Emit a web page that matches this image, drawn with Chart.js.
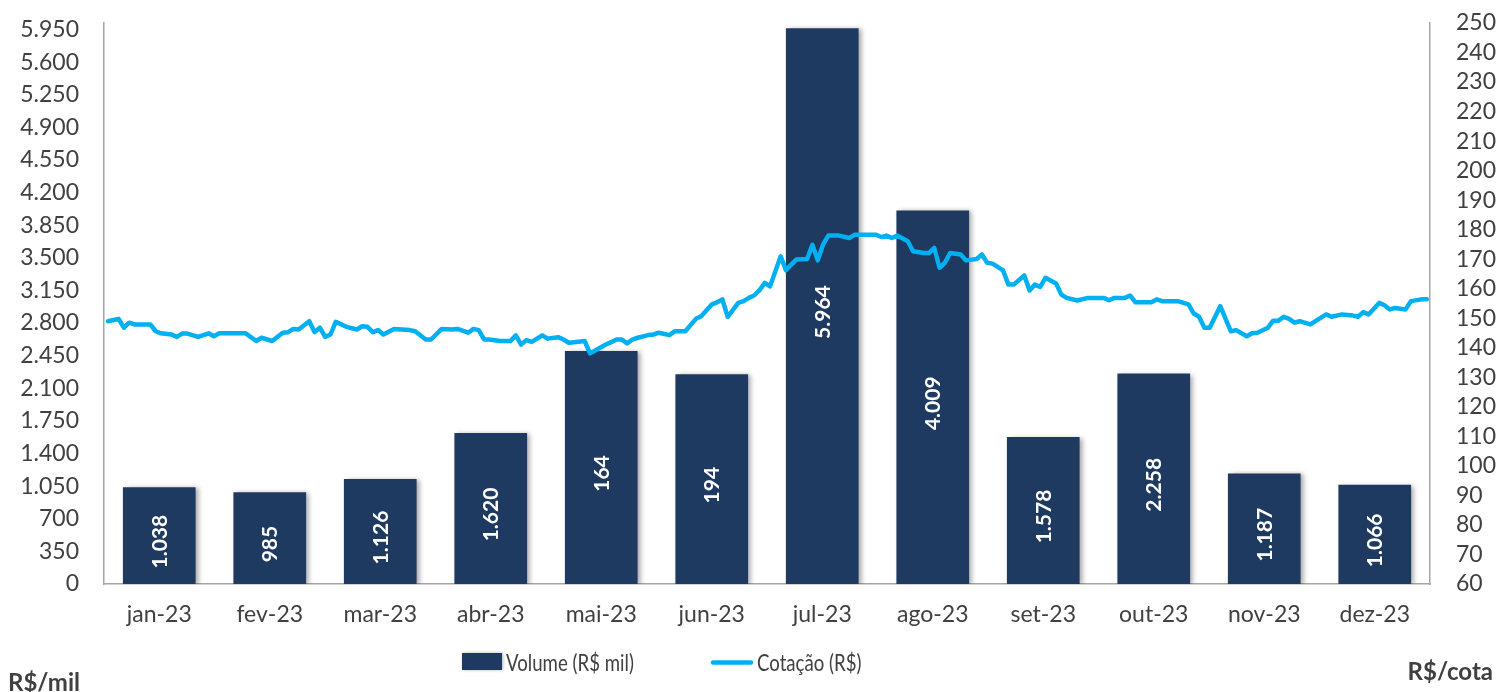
<!DOCTYPE html>
<html>
<head>
<meta charset="utf-8">
<script src="https://cdn.jsdelivr.net/npm/chart.js@4"></script>
<style>
html,body{margin:0;padding:0;background:#fff;}
#wrap{width:1499px;height:692px;position:relative;}
</style>
</head>
<body>
<div id="wrap"><canvas id="c" width="1499" height="692"></canvas></div>
<script>
// ---- data ----
const meses = ['jan-23','fev-23','mar-23','abr-23','mai-23','jun-23','jul-23','ago-23','set-23','out-23','nov-23','dez-23'];
const volumeBarras = [1038, 985, 1126, 1620, 2500, 2250, 5964, 4009, 1578, 2258, 1187, 1066];
const volumeRotulos = ['1.038','985','1.126','1.620','164','194','5.964','4.009','1.578','2.258','1.187','1.066'];
const eixoVolumeTicks = [0,350,700,1050,1400,1750,2100,2450,2800,3150,3500,3850,4200,4550,4900,5250,5600,5950];
const eixoCotacaoTicks = [60,70,80,90,100,110,120,130,140,150,160,170,180,190,200,210,220,230,240,250];
// trading day of the year (0..249) and closing price
const cotacaoDia = [0,2,3,4,5,8,9,10,12,13,14,15,17,19,20,21,26,28,29,31,33,34,35,36,38,39,40,41,42,43,45,47,48,49,50,51,52,54,57,58,60,61,63,65,66,68,69,70,71,72,74,76,77,78,79,80,82,83,85,86,87,88,90,91,92,94,95,96,97,98,99,100,102,103,104,106,107,109,111,112,114,115,116,117,119,120,121,122,123,124,125,127,128,129,130,132,133,134,135,136,138,140,141,145,146,147,148,149,151,152,154,155,156,157,158,159,161,162,164,165,166,167,169,170,171,173,174,175,176,177,179,180,181,183,185,188,189,190,192,193,194,197,198,199,202,204,205,206,207,208,210,212,213,215,216,217,219,220,221,222,223,224,225,227,230,231,233,235,236,237,238,240,241,242,243,245,246,248,249];
const cotacaoValor = [149.0,149.8,146.8,148.5,147.9,147.9,145.6,144.9,144.5,143.7,144.8,144.8,143.7,144.9,143.9,144.9,144.9,142.3,143.4,142.3,145.1,145.3,146.4,146.2,149.0,145.3,146.8,143.7,144.5,148.8,147.1,146.2,147.3,147.1,145.3,146.0,144.5,146.4,146.0,145.6,142.8,142.8,146.4,146.2,146.4,145.1,146.4,146.0,142.8,142.8,142.3,142.3,144.2,141.1,142.6,142.0,144.2,143.1,143.6,142.8,141.7,141.9,142.3,138.1,139.1,141.1,141.9,142.8,142.8,141.5,142.8,143.4,144.3,144.5,145.1,144.3,145.6,145.6,149.8,150.7,154.7,155.4,156.4,150.5,155.2,155.8,156.9,157.7,159.5,162.0,160.8,171.0,166.3,168.2,169.9,170.1,174.9,169.6,174.9,178.0,178.0,177.2,178.3,178.3,177.5,178.0,177.2,178.0,176.1,172.7,172.1,172.1,173.8,167.1,168.8,172.1,171.6,169.6,170.1,171.6,168.8,168.5,166.2,161.4,161.4,164.5,159.4,161.4,160.6,163.7,161.8,158.0,156.9,156.0,156.9,156.9,156.1,156.9,156.9,157.7,155.4,155.4,156.4,155.8,155.8,154.7,151.6,150.5,146.8,146.8,154.1,145.6,146.0,143.9,144.9,145.1,146.8,149.2,149.2,150.5,149.8,148.5,149.0,147.9,151.3,150.5,151.3,150.9,150.5,152.1,151.3,155.2,154.4,153.0,153.5,153.0,155.8,156.4,156.4];

// ---- styles ----
const FONT = 'Lato, "Open Sans", sans-serif';
const TXT = '#404040';
const AXIS = '#A6A6A6';
const BAR = '#1F3A60';
const LINE = '#00B0F0';
const fmt = v => String(v).replace(/\B(?=(\d{3})+(?!\d))/g, '.');
const noPad = s => { s.paddingTop = 0; s.paddingBottom = 0; s.paddingLeft = 0; s.paddingRight = 0; };

const shadowAndLabels = {
  id: 'shadowAndLabels',
  beforeDatasetDraw(chart, args) {
    if (args.index !== 0) return;
    const ctx = chart.ctx;
    ctx.save();
    ctx.shadowColor = 'rgba(0,0,0,0.35)';
    ctx.shadowBlur = 5;
    ctx.shadowOffsetX = 3;
    ctx.shadowOffsetY = 1;
  },
  afterDatasetDraw(chart, args) {
    if (args.index !== 0) return;
    const ctx = chart.ctx;
    ctx.restore();
    const meta = chart.getDatasetMeta(0);
    meta.data.forEach((bar, i) => {
      const cy = (bar.y + bar.base) / 2 + 6;
      ctx.save();
      ctx.translate(bar.x, cy);
      ctx.rotate(-Math.PI / 2);
      ctx.fillStyle = '#ffffff';
      ctx.font = 'bold 21px ' + FONT;
      ctx.textAlign = 'center';
      ctx.textBaseline = 'alphabetic';
      ctx.fillText(volumeRotulos[i], 0, 7.5);
      ctx.restore();
    });
  }
};

const legendAndUnits = {
  id: 'legendAndUnits',
  afterDraw(chart) {
    const ctx = chart.ctx;
    const ds = chart.data.datasets;
    ctx.save();
    ctx.save();
    ctx.shadowColor = 'rgba(0,0,0,0.3)';
    ctx.shadowBlur = 3;
    ctx.shadowOffsetX = 1;
    ctx.fillStyle = ds[0].backgroundColor;
    ctx.fillRect(462, 653, 40, 17);
    ctx.restore();
    ctx.fillStyle = TXT;
    ctx.font = '23px ' + FONT;
    ctx.textBaseline = 'alphabetic';
    ctx.textAlign = 'left';
    ctx.save();
    ctx.translate(506, 671);
    ctx.scale(0.81, 1);
    ctx.fillText(ds[0].label, 0, 0);
    ctx.restore();
    ctx.strokeStyle = ds[1].borderColor;
    ctx.lineWidth = 4.5;
    ctx.lineCap = 'round';
    ctx.beginPath();
    ctx.moveTo(713, 662.5);
    ctx.lineTo(751, 662.5);
    ctx.stroke();
    ctx.save();
    ctx.translate(757, 671);
    ctx.scale(0.81, 1);
    ctx.fillText(ds[1].label, 0, 0);
    ctx.restore();
    ctx.font = 'bold 24px ' + FONT;
    ctx.fillStyle = TXT;
    ctx.textAlign = 'left';
    ctx.fillText('R$/mil', 8, 691);
    ctx.textAlign = 'right';
    ctx.fillText('R$/cota', 1493, 680);
    ctx.restore();
  }
};

new Chart(document.getElementById('c'), {
  type: 'bar',
  data: {
    labels: meses,
    datasets: [
      {
        type: 'bar',
        label: 'Volume (R$ mil)',
        data: volumeBarras,
        backgroundColor: BAR,
        borderWidth: 0,
        xAxisID: 'x',
        yAxisID: 'y',
        order: 2,
        grouped: false,
        barPercentage: 0.658,
        categoryPercentage: 1
      },
      {
        type: 'line',
        label: 'Cotação (R$)',
        data: cotacaoDia.map((d, i) => ({ x: d, y: cotacaoValor[i] })),
        xAxisID: 'xd',
        yAxisID: 'y2',
        borderColor: LINE,
        backgroundColor: LINE,
        borderWidth: 4.5,
        pointRadius: 0,
        tension: 0,
        borderJoinStyle: 'round',
        borderCapStyle: 'round',
        fill: false,
        grouped: false,
        order: 1
      }
    ]
  },
  options: {
    responsive: false,
    devicePixelRatio: 1,
    animation: false,
    layout: { padding: { top: 23, left: 0, right: 0, bottom: 0 } },
    plugins: {
      legend: { display: false },
      tooltip: { enabled: false }
    },
    scales: {
      x: {
        type: 'category',
        offset: true,
        grid: { display: false, drawTicks: false },
        border: { display: true, color: AXIS, width: 1.5 },
        ticks: { color: TXT, font: { family: FONT, size: 23 }, padding: 17, maxRotation: 0, autoSkip: false },
        afterFit(s) { s.height = 108; noPad(s); }
      },
      xd: {
        type: 'linear',
        display: false,
        offset: false,
        min: -0.75,
        max: 249.6,
        grid: { offset: false }
      },
      y: {
        type: 'linear',
        position: 'left',
        min: 0,
        max: 6020,
        afterBuildTicks(s) { s.ticks = eixoVolumeTicks.map(v => ({ value: v })); },
        grid: { display: false, drawTicks: false },
        border: { display: true, color: AXIS, width: 1.5 },
        ticks: { color: TXT, font: { family: FONT, size: 23 }, padding: 25, autoSkip: false, callback: v => fmt(v) },
        afterFit(s) { s.width = 104; noPad(s); }
      },
      y2: {
        type: 'linear',
        position: 'right',
        min: 60,
        max: 250,
        afterBuildTicks(s) { s.ticks = eixoCotacaoTicks.map(v => ({ value: v })); },
        grid: { display: false, drawTicks: false },
        border: { display: true, color: AXIS, width: 1.5 },
        ticks: { color: TXT, font: { family: FONT, size: 23 }, padding: 26, autoSkip: false, callback: v => String(v) },
        afterFit(s) { s.width = 69; noPad(s); }
      }
    }
  },
  plugins: [shadowAndLabels, legendAndUnits]
});
</script>
</body>
</html>
